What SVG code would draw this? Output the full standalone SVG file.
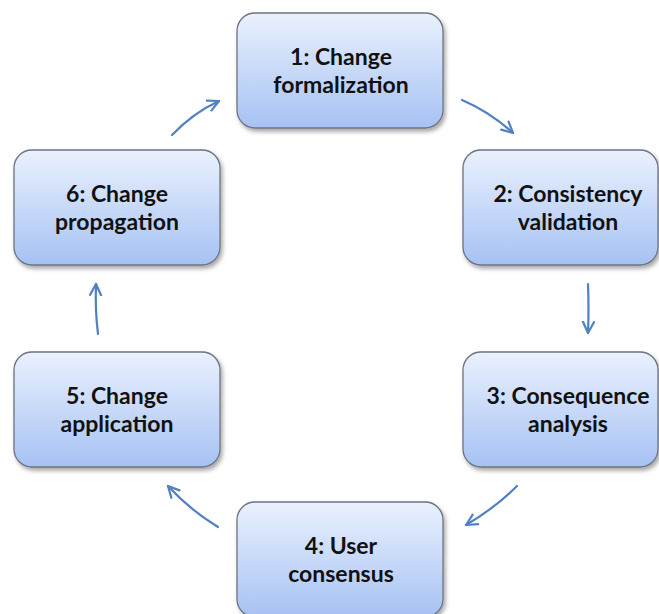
<svg xmlns="http://www.w3.org/2000/svg" width="659" height="614" viewBox="0 0 659 614">
<defs>
<linearGradient id="g" x1="0" y1="0" x2="0" y2="1">
<stop offset="0" stop-color="#eaf1fe"/>
<stop offset="1" stop-color="#a6c2f3"/>
</linearGradient>
<filter id="sh" x="-10%" y="-10%" width="125%" height="130%">
<feDropShadow dx="2" dy="3" stdDeviation="2" flood-color="#000" flood-opacity="0.35"/>
</filter>
<marker id="ah" viewBox="0 0 14 14" refX="12" refY="7" markerWidth="14" markerHeight="14" markerUnits="userSpaceOnUse" orient="auto">
<path d="M1,1.5 L12,7 L1,12.5" fill="none" stroke="#4f81c4" stroke-width="2.2" stroke-linecap="round" stroke-linejoin="round"/>
</marker>
</defs>
<style>
.box{fill:url(#g);stroke:#6d7480;stroke-width:1.3;filter:url(#sh)}
.t{font-family:Lato,"Open Sans","Liberation Sans",sans-serif;font-weight:700;font-size:23px;fill:#111;text-anchor:middle}
.c{fill:none;stroke:#4f81c4;stroke-width:2.2;stroke-linecap:round;marker-end:url(#ah)}
</style>
<rect width="659" height="614" fill="#fff"/>
<g id="connectors">
<path class="c" d="M462,100 Q490,112 513,133"/>
<path class="c" d="M588,284 Q589,310 588,333"/>
<path class="c" d="M517,486 Q495,508 466,525"/>
<path class="c" d="M218,527 Q190,510 168,486"/>
<path class="c" d="M98,334 Q95,310 96,284"/>
<path class="c" d="M172,135 Q193,113 219,101"/>
</g>
<g id="n1">
<rect class="box" x="237" y="13" width="206" height="115" rx="18"/>
<text class="t" x="341" y="65">1: Change</text>
<text class="t" x="341" y="93">formalization</text>
</g>
<g id="n2">
<rect class="box" x="463" y="150" width="195" height="115" rx="18"/>
<text class="t" x="568" y="202">2: Consistency</text>
<text class="t" x="568" y="230">validation</text>
</g>
<g id="n3">
<rect class="box" x="463" y="352" width="195" height="115" rx="18"/>
<text class="t" x="568" y="404">3: Consequence</text>
<text class="t" x="568" y="432">analysis</text>
</g>
<g id="n4">
<rect class="box" x="237" y="502" width="206" height="115" rx="18"/>
<text class="t" x="341" y="554">4: User</text>
<text class="t" x="341" y="582">consensus</text>
</g>
<g id="n5">
<rect class="box" x="14" y="352" width="206" height="115" rx="18"/>
<text class="t" x="117" y="404">5: Change</text>
<text class="t" x="117" y="432">application</text>
</g>
<g id="n6">
<rect class="box" x="14" y="150" width="206" height="115" rx="18"/>
<text class="t" x="117" y="202">6: Change</text>
<text class="t" x="117" y="230">propagation</text>
</g>
</svg>
